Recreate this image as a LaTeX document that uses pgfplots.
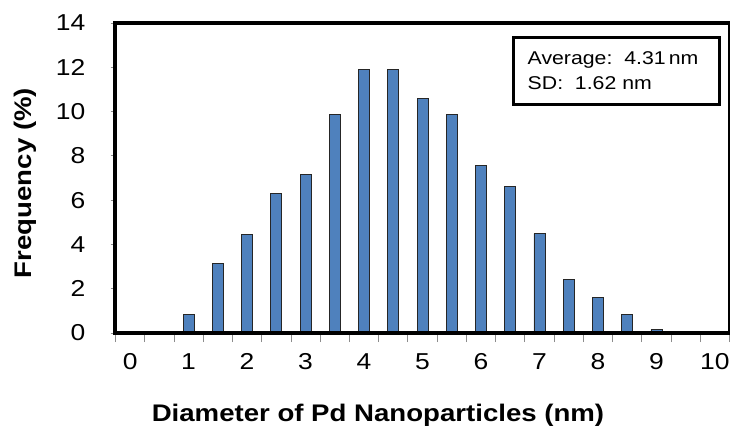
\documentclass[border=0pt]{standalone}
\usepackage{fontspec}
\setmainfont{Liberation Sans}[FakeStretch=1.15]
\usepackage{pgfplots}
\pgfplotsset{compat=1.18}
\definecolor{barblue}{RGB}{79,129,189}
\definecolor{tickgray}{RGB}{140,140,140}
\begin{document}
\begin{tikzpicture}
\begin{axis}[
  at={(0,0)}, anchor=south west,
  scale only axis, width=614bp, height=310bp,
  xmin=-0.25, xmax=10.25, ymin=0, ymax=14,
  ybar, bar width=11bp,
  axis on top,
  axis line style={line width=4bp, black},
  tick align=outside,
  tick pos=left,
  major tick length=9bp,
  ytick={0,2,...,14},
  ytick style={tickgray, line width=0.8bp, /pgfplots/major tick length=5bp},
  xtick={-0.25,0.25,...,10.25},
  xticklabels={},
  xtick style={tickgray, line width=0.8bp},
  extra x ticks={0,1,2,3,4,5,6,7,8,9,10},
  extra x tick labels={0,1,2,3,4,5,6,7,8,9,10},
  extra x tick style={major tick length=0pt, xtick style={draw=none}},
  /pgf/number format/assume math mode=true,
  ticklabel style={font=\fontsize{23bp}{23bp}\selectfont, text=black},
  yticklabel style={anchor=east, inner sep=0pt, xshift=-21bp},
  xticklabel style={anchor=north, inner sep=0pt, yshift=-20bp},
  xlabel={Diameter of Pd Nanoparticles (nm)},
  xlabel style={at={(axis description cs:0.4275,-0.286)}, anchor=base, inner sep=0pt, font=\fontsize{24bp}{24bp}\selectfont\bfseries},
  ylabel={Frequency (\%)},
  ylabel style={at={(axis description cs:-0.1474,0.484)}, anchor=center, rotate=0, inner sep=0pt, font=\fontsize{24bp}{24bp}\selectfont\bfseries},
  clip=false,
]
\addplot[fill=barblue, draw=black!85, line width=0.8bp] coordinates {
  (1,0.82) (1.5,3.15) (2,4.45) (2.5,6.32) (3,7.18) (3.5,9.88)
  (4,11.9) (4.5,11.9) (5,10.6) (5.5,9.86) (6,7.58) (6.5,6.6)
  (7,4.49) (7.5,2.4) (8,1.59) (8.5,0.82) (9,0.15)
};
\draw[line width=3bp, black, fill=white] (axis description cs:0.6474,0.7387) rectangle (axis description cs:0.9845,0.9548);
\node[anchor=base west, inner sep=0pt, font=\fontsize{18.5bp}{18.5bp}\selectfont] at (axis description cs:0.6710,0.8668) {Average:\ \ 4.31\,nm};
\node[anchor=base west, inner sep=0pt, font=\fontsize{18.5bp}{18.5bp}\selectfont] at (axis description cs:0.6710,0.787) {SD:\ \ 1.62 nm};
\end{axis}
\pgfresetboundingbox
\useasboundingbox (-115.5bp,-115bp) rectangle (614.5bp,333bp);
\end{tikzpicture}
\end{document}
